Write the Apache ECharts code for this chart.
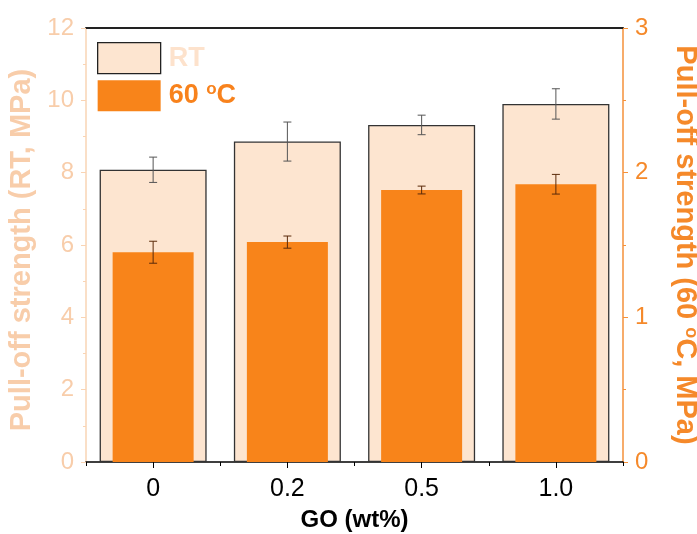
<!DOCTYPE html>
<html>
<head>
<meta charset="utf-8">
<script src="https://cdn.jsdelivr.net/npm/echarts@6/dist/echarts.min.js"></script>
<style>html,body{margin:0;padding:0;background:#fff}#c{width:697px;height:534px}</style>
</head>
<body>
<div id="c"></div>
<script>
var categories = ['0', '0.2', '0.5', '1.0'];
var rtValues = [8.08, 8.86, 9.32, 9.90];
var rtErrors = [0.35, 0.54, 0.27, 0.42];
var hotValues = [1.45, 1.52, 1.88, 1.92];
var hotErrors = [0.076, 0.042, 0.027, 0.068];
var leftTicks = [0, 2, 4, 6, 8, 10, 12];
var rightTicks = [0, 1, 2, 3];

var chart = echarts.init(document.getElementById('c'), null, {renderer: 'canvas'});

function errSeries(name, vals, errs, xi, yi, color) {
  return {
    name: name + ' err', type: 'custom', xAxisIndex: xi, yAxisIndex: yi, z: 10,
    data: vals.map(function (v, i) { return [i, v - errs[i], v + errs[i]]; }),
    renderItem: function (params, api) {
      var lo = api.coord([api.value(0), api.value(1)]);
      var hi = api.coord([api.value(0), api.value(2)]);
      var x = lo[0], w = 4;
      var st = {stroke: color, lineWidth: 1};
      return {type: 'group', children: [
        {type: 'line', shape: {x1: x, y1: lo[1], x2: x, y2: hi[1]}, style: st},
        {type: 'line', shape: {x1: x - w, y1: lo[1], x2: x + w, y2: lo[1]}, style: st},
        {type: 'line', shape: {x1: x - w, y1: hi[1], x2: x + w, y2: hi[1]}, style: st}
      ]};
    }
  };
}

var lightText = '#f8cdaa';
var orangeText = '#f5892a';
var FF = 'Liberation Sans, Arial, sans-serif';

chart.setOption({
  animation: false,
  grid: {left: 86, right: 74, top: 28, bottom: 72, outerBoundsMode: 'none', containLabel: false},
  legend: {
    left: 97, top: 42, padding: 0, orient: 'vertical', itemWidth: 63, itemHeight: 31, itemGap: 6,
    icon: 'rect',
    data: [
      {name: 'RT', itemStyle: {color: '#fde5d0', borderColor: '#222', borderWidth: 1.3}},
      {name: '60 °C', itemStyle: {color: '#f8841a'}}
    ],
    formatter: function (n) { return n === 'RT' ? '{rt|RT}' : '{c|60 }{s|o}{c|C}'; },
    textStyle: {
      padding: [0, 0, 0, 3],
      rich: {
        rt: {fontFamily: FF, fontWeight: 'bold', fontSize: 27, color: '#fde2cc'},
        c: {fontFamily: FF, fontWeight: 'bold', fontSize: 27, color: '#f8821c'},
        s: {fontFamily: FF, fontWeight: 'bold', fontSize: 17, color: '#f8821c', verticalAlign: 'top', padding: [0, 0, 12, 0]}
      }
    }
  },
  xAxis: [{
    type: 'category', data: categories, position: 'bottom',
    name: 'GO (wt%)', nameLocation: 'middle', nameGap: 46,
    nameTextStyle: {fontFamily: FF, fontWeight: 'bold', fontSize: 24, color: '#000'},
    axisLine: {onZero: false, lineStyle: {color: '#000', width: 1.5}},
    axisTick: {show: true, alignWithLabel: false, inside: false, length: 4, lineStyle: {color: '#000'}},
    axisLabel: {fontFamily: FF, fontSize: 25, color: '#000', margin: 15},
    splitLine: {show: false}
  }, {
    type: 'category', data: categories, position: 'top',
    axisLine: {show: true, onZero: false, lineStyle: {color: '#222', width: 2}},
    axisTick: {show: false}, axisLabel: {show: false}, splitLine: {show: false}
  }, {
    type: 'category', data: categories, position: 'bottom', show: true,
    axisLine: {show: false, onZero: false},
    axisTick: {show: true, alignWithLabel: true, length: 6, lineStyle: {color: '#000'}},
    axisLabel: {show: false}, splitLine: {show: false}
  }],
  yAxis: [{
    type: 'value', min: 0, max: 12, interval: 2, position: 'left',
    name: 'Pull-off strength (RT, MPa)', nameLocation: 'middle', nameGap: 47, nameRotate: 90,
    nameTextStyle: {fontFamily: FF, fontWeight: 'bold', fontSize: 29, color: lightText, padding: [0, 10, 0, 0]},
    axisLine: {show: true, lineStyle: {color: '#f9d4b4', width: 1.5}},
    axisTick: {show: true, length: 5, lineStyle: {color: '#f9d4b4'}},
    minorTick: {show: true, splitNumber: 2, length: 3, lineStyle: {color: '#f9d4b4'}},
    axisLabel: {fontFamily: FF, fontSize: 24, color: lightText, margin: 12,
      formatter: function (v) { return leftTicks.indexOf(v) >= 0 ? String(v) : ''; }},
    splitLine: {show: false}
  }, {
    type: 'value', min: 0, max: 3, interval: 1, position: 'right',
    name: '{a|Pull-off strength (60 }{s|o}{a|C, MPa)}', nameLocation: 'middle', nameGap: 47, nameRotate: -90,
    nameTextStyle: {
      rich: {
        a: {fontFamily: FF, fontWeight: 'bold', fontSize: 29, color: orangeText},
        s: {fontFamily: FF, fontWeight: 'bold', fontSize: 18, color: orangeText, verticalAlign: 'top', padding: [0, 0, 12, 0]}
      }
    },
    axisLine: {show: true, lineStyle: {color: '#f5913a', width: 1.5}},
    axisTick: {show: true, length: 5, lineStyle: {color: '#f5913a'}},
    minorTick: {show: true, splitNumber: 2, length: 3, lineStyle: {color: '#f5913a'}},
    axisLabel: {fontFamily: FF, fontSize: 24, color: orangeText, margin: 12,
      formatter: function (v) { return rightTicks.indexOf(v) >= 0 ? String(v) : ''; }},
    splitLine: {show: false}
  }],
  series: [{
    name: 'RT', type: 'bar', xAxisIndex: 0, yAxisIndex: 0, barWidth: 107, z: 2,
    data: rtValues,
    itemStyle: {color: '#fde5d0', borderColor: '#333', borderWidth: 1.3}
  }, {
    name: '60 °C', type: 'bar', xAxisIndex: 1, yAxisIndex: 1, barWidth: 81, z: 3,
    data: hotValues,
    itemStyle: {color: '#f8841a'}
  },
  errSeries('RT', rtValues, rtErrors, 0, 0, '#555'),
  errSeries('60', hotValues, hotErrors, 1, 1, '#5a2a0a')
  ]
});
</script>
</body>
</html>
